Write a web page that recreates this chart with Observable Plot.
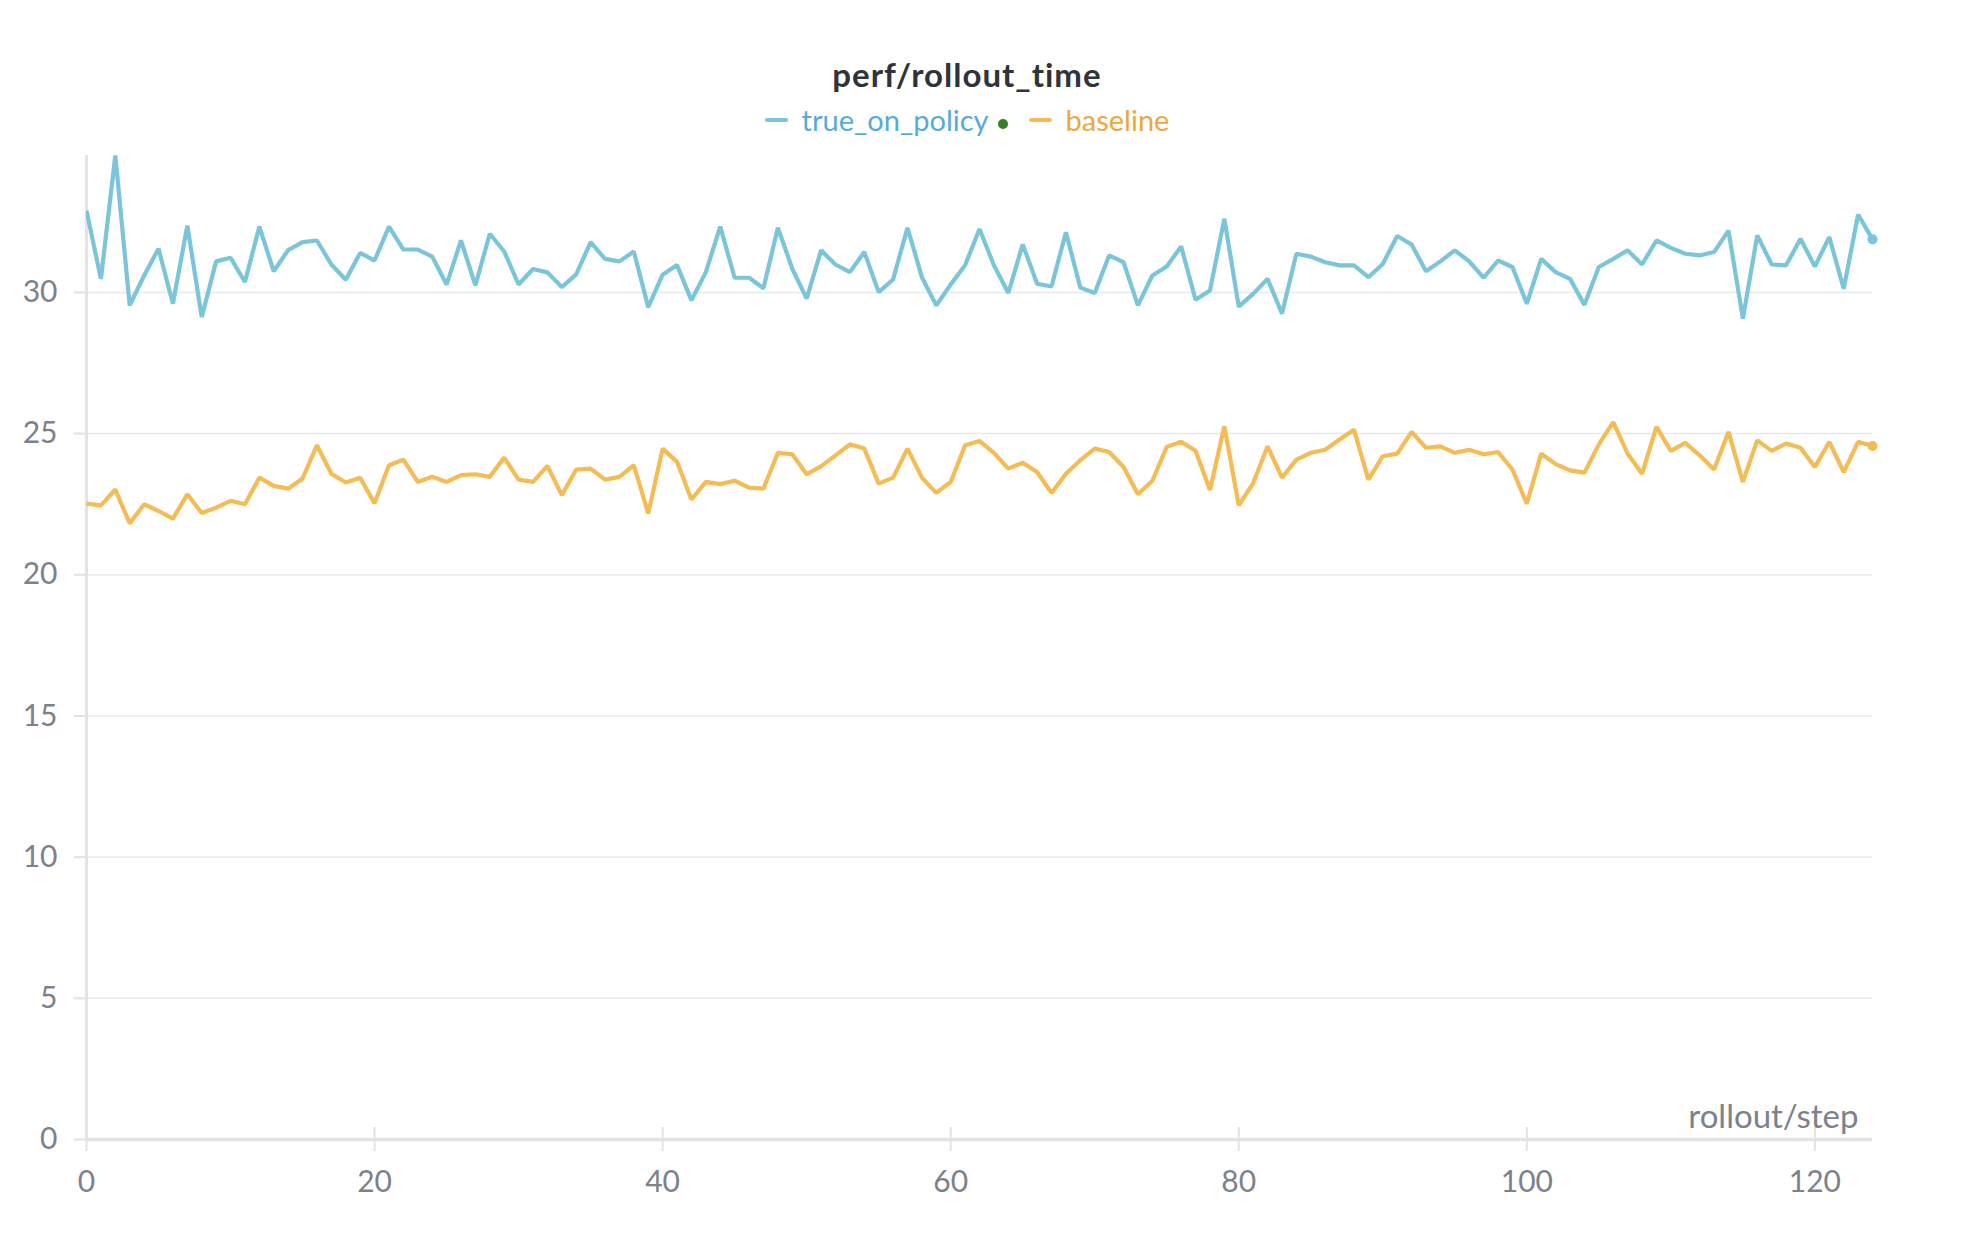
<!DOCTYPE html>
<html>
<head>
<meta charset="utf-8">
<script src="https://cdn.jsdelivr.net/npm/d3@7"></script>
<script src="https://cdn.jsdelivr.net/npm/@observablehq/plot@0.6"></script>
<style>
  html, body { margin: 0; padding: 0; background: #fff; overflow: hidden; }
  #wrap { position: relative; width: 1974px; height: 1246px; font-family: Lato, "Open Sans", sans-serif; }
  #title { position: absolute; left: 0; width: 1934px; top: 54px; line-height: 40px; text-align: center;
           font-size: 33px; font-weight: 700; letter-spacing: 1px; color: #303338; }
  #legend { position: absolute; left: 0; width: 1934px; top: 102px; height: 36px; line-height: 36px;
            display: flex; justify-content: center; align-items: center; font-size: 29px; }
  .dash { display: inline-block; width: 23px; height: 4px; border-radius: 2px; }
  .dot { display: inline-block; width: 10px; height: 10px; border-radius: 50%; position: relative; top: 4px; }
  #chart { position: absolute; left: 0; top: 150px; }
</style>
</head>
<body>
<div id="wrap">
  <div id="title"></div>
  <div id="legend"></div>
  <div id="chart"></div>
</div>
<script>
const title = "perf/rollout_time";
const xLabel = "rollout/step";
const seriesNames = ["true_on_policy", "baseline"];
const seriesColors = ["#7ac5da", "#f5bc55"];
const legendTextColors = ["#56acd6", "#eca73d"];
const activeDotColor = "#3a7d29";

const steps = d3.range(0, 125);

const trueOnPolicy = [
  32.9, 30.48, 34.85, 29.54, 30.6, 31.55, 29.6, 32.37, 29.13, 31.1,
  31.23, 30.37, 32.33, 30.75, 31.5, 31.78, 31.84, 30.99, 30.45, 31.4,
  31.13, 32.33, 31.52, 31.52, 31.27, 30.28, 31.84, 30.25, 32.08, 31.45,
  30.28, 30.83, 30.71, 30.19, 30.64, 31.78, 31.19, 31.1, 31.45, 29.48,
  30.63, 30.97, 29.72, 30.72, 32.33, 30.52, 30.52, 30.15, 32.29, 30.84,
  29.78, 31.49, 30.99, 30.72, 31.43, 30.01, 30.46, 32.29, 30.54, 29.54,
  30.28, 30.96, 32.25, 30.96, 29.98, 31.7, 30.31, 30.21, 32.13, 30.17,
  29.98, 31.31, 31.07, 29.54, 30.6, 30.92, 31.63, 29.74, 30.07, 32.61,
  29.5, 29.95, 30.48, 29.25, 31.37, 31.27, 31.07, 30.96, 30.96, 30.54,
  31.01, 32.0, 31.7, 30.75, 31.1, 31.49, 31.1, 30.52, 31.13, 30.9,
  29.6, 31.19, 30.72, 30.48, 29.56, 30.9, 31.19, 31.49, 30.99, 31.84,
  31.58, 31.37, 31.31, 31.43, 32.19, 29.07, 32.02, 30.99, 30.96, 31.9,
  30.92, 31.96, 30.13, 32.76, 31.88
];

const baseline = [
  22.52, 22.46, 23.02, 21.82, 22.5, 22.26, 21.99, 22.85, 22.19, 22.38,
  22.62, 22.5, 23.44, 23.15, 23.05, 23.41, 24.59, 23.58, 23.27, 23.44,
  22.53, 23.88, 24.08, 23.29, 23.47, 23.29, 23.53, 23.56, 23.47, 24.15,
  23.37, 23.29, 23.86, 22.82, 23.73, 23.76, 23.37, 23.47, 23.88, 22.17,
  24.47, 24.0, 22.67, 23.29, 23.21, 23.33, 23.09, 23.05, 24.32, 24.27,
  23.56, 23.84, 24.23, 24.62, 24.47, 23.23, 23.44, 24.47, 23.44, 22.9,
  23.29, 24.59, 24.74, 24.32, 23.76, 23.97, 23.64, 22.9, 23.58, 24.06,
  24.47, 24.35, 23.82, 22.85, 23.33, 24.53, 24.71, 24.39, 23.0, 25.26,
  22.46, 23.25, 24.55, 23.44, 24.08, 24.32, 24.43, 24.79, 25.14, 23.37,
  24.2, 24.29, 25.06, 24.5, 24.55, 24.32, 24.43, 24.27, 24.35, 23.73,
  22.52, 24.29, 23.92, 23.7, 23.62, 24.62, 25.41, 24.29, 23.58, 25.24,
  24.39, 24.67, 24.23, 23.73, 25.06, 23.29, 24.76, 24.39, 24.65, 24.5,
  23.82, 24.71, 23.64, 24.71, 24.56
];

const xTicks = [0, 20, 40, 60, 80, 100, 120];
const yTicks = [0, 5, 10, 15, 20, 25, 30];
const yGrid = [5, 10, 15, 20, 25, 30];

// Build long table
const seriesValues = [trueOnPolicy, baseline];
const data = [];
seriesNames.forEach((name, i) => {
  steps.forEach((s, j) => data.push({step: s, value: seriesValues[i][j], series: name}));
});
const lastPoints = seriesNames.map((name, i) => ({step: steps[steps.length - 1], value: seriesValues[i][steps.length - 1], series: name}));

const yMax = d3.max(data, d => d.value);

// Title + legend
document.getElementById("title").textContent = title;
const legend = document.getElementById("legend");
seriesNames.forEach((name, i) => {
  const dash = document.createElement("span");
  dash.className = "dash";
  dash.style.background = seriesColors[i];
  dash.style.marginRight = "14px";
  if (i > 0) dash.style.marginLeft = "21px";
  legend.appendChild(dash);
  const t = document.createElement("span");
  t.textContent = name;
  t.style.color = legendTextColors[i];
  legend.appendChild(t);
  if (i === 0) {
    const dot = document.createElement("span");
    dot.className = "dot";
    dot.style.background = activeDotColor;
    dot.style.marginLeft = "9px";
    legend.appendChild(dot);
  }
});

const axisColor = "#e3e3e3";
const textColor = "#7c818b";

const chart = Plot.plot({
  width: 1974,
  height: 1096,
  marginTop: 5,
  marginBottom: 107,
  marginLeft: 86,
  marginRight: 102,
  style: {fontFamily: "Lato, 'Open Sans', sans-serif", fontSize: "30px", background: "white", color: textColor},
  x: {domain: [0, d3.max(steps)], label: null},
  y: {domain: [0, yMax], label: null},
  color: {domain: seriesNames, range: seriesColors},
  marks: [
    Plot.gridY(yGrid, {stroke: "#e9e9e9", strokeOpacity: 1, strokeWidth: 1.5}),
    Plot.axisY(yTicks, {tickSize: 12, tickPadding: 17, stroke: axisColor, strokeWidth: 2, fill: textColor, label: null}),
    Plot.axisX(xTicks, {tickSize: 24, dy: -12, tickPadding: 19, stroke: axisColor, strokeWidth: 2, fill: textColor, label: null}),
    Plot.ruleX([0], {stroke: axisColor, strokeWidth: 3}),
    Plot.ruleY([0], {stroke: axisColor, strokeWidth: 3.5}),
    Plot.line(data, {x: "step", y: "value", stroke: "series", z: "series", strokeWidth: 4.2,
                     strokeLinejoin: "miter", strokeLinecap: "butt", clip: "frame"}),
    Plot.dot(lastPoints, {x: "step", y: "value", fill: "series", r: 5}),
    Plot.text([xLabel], {frameAnchor: "bottom-right", dx: -14, dy: -12, fill: textColor, fontSize: 33})
  ]
});
document.getElementById("chart").appendChild(chart);
</script>
</body>
</html>
